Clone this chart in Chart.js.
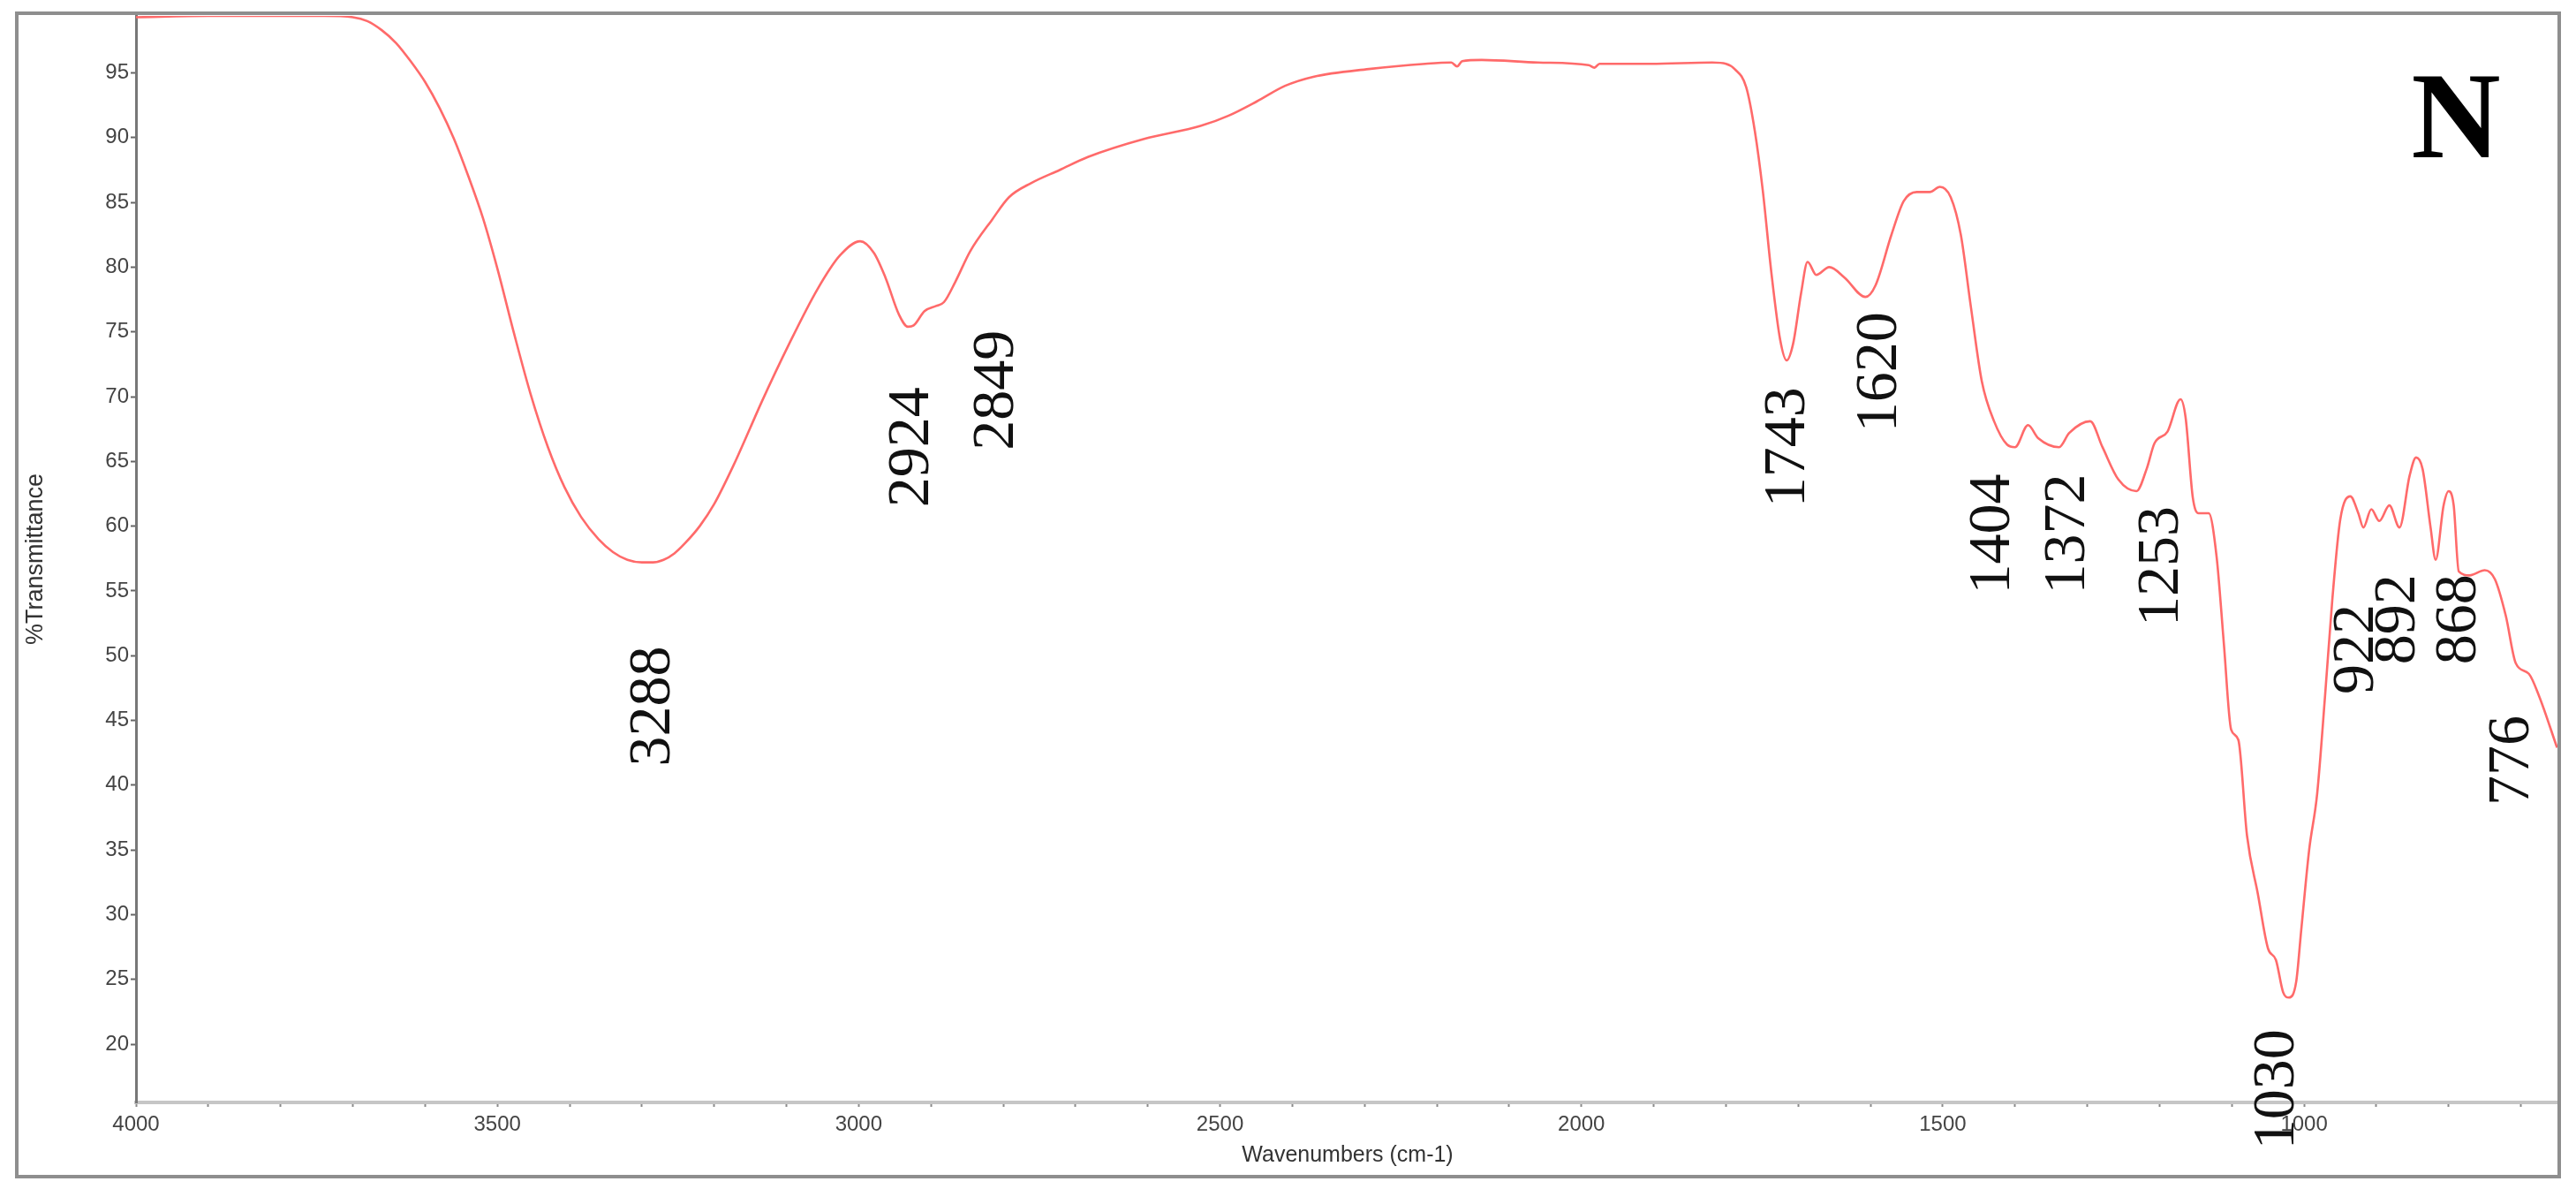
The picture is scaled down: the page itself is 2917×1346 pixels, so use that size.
<!DOCTYPE html>
<html>
<head>
<meta charset="utf-8">
<script src="https://cdn.jsdelivr.net/npm/chart.js@4.4.1/dist/chart.umd.min.js"></script>
<style>
  html, body { margin: 0; padding: 0; background: #ffffff; }
  #wrap { width: 2917px; height: 1346px; position: relative; }
</style>
</head>
<body>
<div id="wrap"><canvas id="c"></canvas></div>
<script>
// ---- data ----
const wavenumbers = [4000, 3900, 3800, 3740, 3700, 3680, 3660, 3640, 3620, 3600, 3580, 3560, 3540, 3520, 3500, 3477, 3454, 3430, 3407, 3384, 3360, 3340, 3320, 3300, 3285, 3270, 3255, 3240, 3220, 3200, 3174, 3150, 3135, 3096, 3057, 3026, 2998, 2979, 2963, 2944, 2932, 2924, 2909, 2893, 2882, 2866, 2846, 2815, 2792, 2761, 2722, 2683, 2605, 2527, 2488, 2449, 2410, 2371, 2294, 2216, 2180, 2172, 2165, 2138, 2060, 1990, 1982, 1975, 1904, 1819, 1800, 1788, 1772, 1760, 1749, 1737, 1725, 1716, 1707, 1696, 1687, 1675, 1657, 1636, 1607, 1593, 1571, 1554, 1536, 1518, 1504, 1489, 1475, 1461, 1446, 1429, 1411, 1400, 1382, 1368, 1339, 1325, 1296, 1279, 1257, 1232, 1218, 1207, 1189, 1171, 1164, 1154, 1146, 1132, 1121, 1111, 1101, 1091, 1079, 1064, 1050, 1039, 1029, 1021, 1011, 1004, 993, 982, 971, 961, 950, 936, 925, 918, 907, 896, 882, 868, 854, 845, 836, 825, 818, 807, 800, 793, 786, 771, 750, 736, 721, 707, 689, 675, 650];
const transmittance = [99.3, 99.4, 99.4, 99.4, 99.3, 99.0, 98.3, 97.3, 95.9, 94.3, 92.3, 89.9, 87.0, 83.8, 79.9, 74.9, 70.2, 66.1, 63.0, 60.7, 59.0, 58.0, 57.4, 57.2, 57.2, 57.4, 57.9, 58.7, 60.0, 61.7, 64.6, 67.6, 69.5, 74.1, 78.3, 80.9, 82.0, 81.1, 79.2, 76.3, 75.4, 75.5, 76.6, 77.0, 77.3, 78.9, 81.2, 83.7, 85.4, 86.5, 87.5, 88.5, 89.9, 90.9, 91.7, 92.8, 94.0, 94.7, 95.3, 95.7, 95.8, 95.5, 95.9, 96.0, 95.8, 95.6, 95.4, 95.7, 95.7, 95.8, 95.7, 95.3, 93.9, 90.5, 85.9, 79.5, 74.4, 72.8, 74.1, 78.0, 80.4, 79.4, 80.0, 79.2, 77.7, 78.6, 82.5, 85.1, 85.8, 85.8, 86.2, 85.4, 82.5, 76.9, 71.2, 68.1, 66.3, 66.1, 67.8, 66.8, 66.1, 67.2, 68.1, 66.1, 63.6, 62.7, 64.4, 66.4, 67.3, 69.8, 68.4, 62.2, 61.0, 61.0, 57.6, 50.9, 44.3, 43.5, 36.1, 31.6, 27.4, 26.5, 24.0, 23.6, 24.8, 28.8, 35.0, 39.3, 46.9, 54.3, 60.5, 62.3, 61.0, 59.9, 61.3, 60.4, 61.6, 59.9, 63.9, 65.3, 64.4, 59.9, 57.4, 61.6, 62.7, 61.6, 56.5, 56.2, 56.6, 55.9, 53.1, 49.4, 48.6, 46.9, 42.9];

const xTickLabels = [1000, 1500, 2000, 2500, 3000, 3500, 4000];
const yTickLabels = [20, 25, 30, 35, 40, 45, 50, 55, 60, 65, 70, 75, 80, 85, 90, 95];

// peak annotations (text, and where the text sits in data units)
const peakLabels = ['3288', '2924', '2849', '1743', '1620', '1404', '1372', '1253', '1030', '922', '892', '868', '776'];
const peakLabelX = [3284, 2926, 2809, 1713, 1587, 1430, 1326, 1197, 1037, 927, 869, 785, 712];
const peakLabelY = [46.1, 66.1, 70.5, 66.1, 71.9, 59.4, 59.4, 56.9, 16.5, 50.5, 52.8, 52.8, 41.9];

const panelLetter = 'N';

// ---- chart ----
const points = wavenumbers.map((w, i) => ({ x: w, y: transmittance[i] }));

const decor = {
  id: 'decor',
  beforeDraw(chart) {
    const ctx = chart.ctx;
    ctx.save();
    ctx.fillStyle = '#ffffff';
    ctx.fillRect(0, 0, chart.width, chart.height);
    ctx.restore();
  },
  afterDraw(chart) {
    const ctx = chart.ctx;
    const xs = chart.scales.x, ys = chart.scales.y;
    // outer frame
    ctx.save();
    ctx.strokeStyle = '#8e8e8e';
    ctx.lineWidth = 4;
    ctx.strokeRect(19, 15, chart.chartArea.right - 19, 1332 - 15);
    ctx.restore();
    // peak labels
    ctx.save();
    ctx.fillStyle = '#111111';
    ctx.font = '68px "Liberation Serif", "DejaVu Serif", serif';
    ctx.textAlign = 'center';
    ctx.textBaseline = 'middle';
    peakLabels.forEach((t, i) => {
      const px = xs.getPixelForValue(peakLabelX[i]);
      const py = ys.getPixelForValue(peakLabelY[i]);
      ctx.save();
      ctx.translate(px, py);
      ctx.rotate(-Math.PI / 2);
      ctx.fillText(t, 0, 0);
      ctx.restore();
    });
    ctx.restore();
    // panel letter
    ctx.save();
    ctx.fillStyle = '#000000';
    ctx.font = 'bold 140px "Liberation Serif", "DejaVu Serif", serif';
    ctx.textAlign = 'center';
    ctx.textBaseline = 'alphabetic';
    ctx.fillText(panelLetter, chart.chartArea.right - 117, 178);
    ctx.restore();
  }
};

new Chart(document.getElementById('c'), {
  type: 'line',
  data: {
    datasets: [{
      data: points,
      borderColor: '#ff6a6a',
      borderWidth: 2.6,
      pointRadius: 0,
      cubicInterpolationMode: 'monotone',
      fill: false
    }]
  },
  options: {
    responsive: true,
    maintainAspectRatio: false,
    animation: false,
    events: [],
    layout: { padding: { left: 0, right: 19, top: 18, bottom: 0 } },
    plugins: { legend: { display: false }, tooltip: { enabled: false } },
    scales: {
      x: {
        type: 'linear',
        reverse: true,
        min: 647,
        max: 4000,
        afterBuildTicks(scale) {
          const t = [];
          for (let v = 700; v <= 4000; v += 100) t.push({ value: v });
          scale.ticks = t;
        },
        afterFit(scale) { scale.height = 98; },
        ticks: {
          autoSkip: false,
          maxRotation: 0,
          minRotation: 0,
          padding: 6,
          color: '#444444',
          font: { family: '"Liberation Sans", Arial, sans-serif', size: 24 },
          callback: (v) => xTickLabels.includes(v) ? String(v) : ''
        },
        grid: { drawOnChartArea: false, drawTicks: true, tickLength: 5, tickWidth: 2, tickColor: '#8a8a8a' },
        border: { display: true, color: '#c6c6c6', width: 4 },
        title: {
          display: true,
          text: 'Wavenumbers (cm-1)',
          color: '#333333',
          font: { family: '"Liberation Sans", Arial, sans-serif', size: 25 },
          padding: { top: 0, bottom: 23 }
        }
      },
      y: {
        type: 'linear',
        min: 15.5,
        max: 99.4,
        afterBuildTicks(scale) {
          scale.ticks = yTickLabels.map(v => ({ value: v }));
        },
        afterFit(scale) { scale.width = 154; },
        ticks: {
          padding: 2,
          color: '#444444',
          font: { family: '"Liberation Sans", Arial, sans-serif', size: 24 }
        },
        grid: { drawOnChartArea: false, drawTicks: true, tickLength: 6, tickWidth: 2, tickColor: '#666666' },
        border: { display: true, color: '#777777', width: 3, dash: [2, 3] },
        title: {
          display: true,
          text: '%Transmittance',
          color: '#333333',
          font: { family: '"Liberation Sans", Arial, sans-serif', size: 27 },
          padding: { top: 24, bottom: 0 }
        }
      }
    }
  },
  plugins: [decor]
});
</script>
</body>
</html>
